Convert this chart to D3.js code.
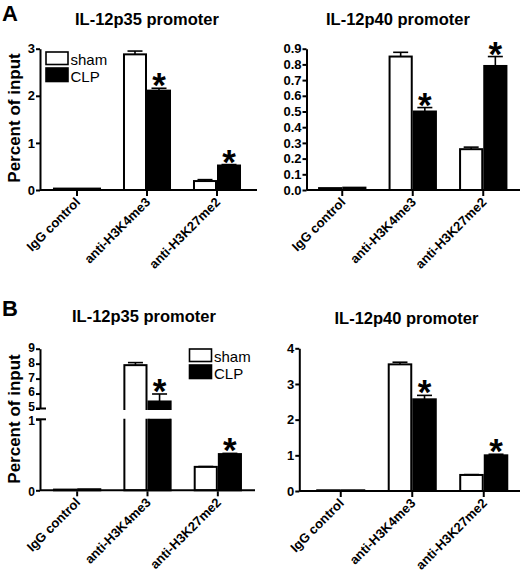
<!DOCTYPE html>
<html>
<head>
<meta charset="utf-8">
<script src="https://cdn.jsdelivr.net/npm/d3@7"></script>
<style>
  body { margin: 0; background: #fff; }
  text { font-family: "Liberation Sans", Arial, sans-serif; }
</style>
</head>
<body>
<div id="chart"></div>
<script>
// Categories and series
const categories = ["IgG control", "anti-H3K4me3", "anti-H3K27me2"];
const groups = ["sham", "CLP"];

// Panel A, IL-12p35
const shamA35 = [0.03, 2.88, 0.19];
const shamA35Err = [0.005, 0.07, 0.03];
const clpA35 = [0.03, 2.11, 0.52];
const clpA35Err = [0.005, 0.05, 0.02];

// Panel A, IL-12p40
const shamA40 = [0.012, 0.85, 0.26];
const shamA40Err = [0.002, 0.027, 0.013];
const clpA40 = [0.015, 0.50, 0.79];
const clpA40Err = [0.002, 0.025, 0.06];

// Panel B, IL-12p35
const shamB35 = [0.01, 7.9, 0.33];
const shamB35Err = [0.002, 0.17, 0.005];
const clpB35 = [0.015, 5.47, 0.51];
const clpB35Err = [0.002, 0.5, 0.01];

// Panel B, IL-12p40
const shamB40 = [0.02, 3.55, 0.45];
const shamB40Err = [0.003, 0.06, 0.01];
const clpB40 = [0.02, 2.57, 1.0];
const clpB40Err = [0.003, 0.11, 0.03];

// significance markers on CLP bars
const starsCLP = [false, true, true];

// tick labels
const ticksA35 = [0, 1, 2, 3];
const ticksA40 = [0, 0.1, 0.2, 0.3, 0.4, 0.5, 0.6, 0.7, 0.8, 0.9];
const ticksB35Top = [5, 6, 7, 8, 9];
const ticksB35Low = [0, 1];
const ticksB40 = [0, 1, 2, 3, 4];

const svg = d3.select("#chart").append("svg")
    .attr("width", 520)
    .attr("height", 576);

let clipCount = 0;

function drawPanel(p) {
    const g = svg.append("g");

    const x = d3.scaleBand()
        .domain(categories)
        .range(p.xRange)
        .paddingInner(0.314)
        .paddingOuter(0.157);
    const xs = d3.scaleBand().domain(groups).range([0, x.bandwidth()]);

    const segs = p.segments.map(s => ({
        ...s,
        scale: d3.scaleLinear().domain(s.domain).range(s.range)
    }));

    // find the segment a value belongs to
    function yOf(v) {
        for (const s of segs) {
            if (v >= s.domain[0] && v <= s.domain[1]) return s.scale(v);
        }
        return segs[segs.length - 1].scale(v);
    }

    const rows = [];
    categories.forEach((c, i) => {
        rows.push({ cat: c, grp: "sham", v: p.sham[i], e: p.shamErr[i], star: false });
        rows.push({ cat: c, grp: "CLP", v: p.clp[i], e: p.clpErr[i], star: starsCLP[i] });
    });

    // bars, one pass per axis segment, clipped to it
    segs.forEach((s, si) => {
        const id = "clip" + (clipCount++);
        const hasAbove = si > 0;
        const top = hasAbove ? s.range[1] - 0.5 : 0;
        const bottom = s.domain[0] === 0 ? s.range[0] + 2 : s.range[0] + 1.5;
        svg.append("clipPath").attr("id", id)
            .append("rect")
            .attr("x", 0).attr("y", top)
            .attr("width", 520).attr("height", bottom - top);

        const bg = g.append("g").attr("clip-path", `url(#${id})`);
        bg.selectAll("rect")
            .data(rows.filter(d => d.v > s.domain[0]))
            .join("rect")
            .attr("x", d => x(d.cat) + xs(d.grp) + 1)
            .attr("width", xs.bandwidth() - 2)
            .attr("y", d => d.v > s.domain[1] ? s.range[1] - 20 : s.scale(d.v))
            .attr("height", d => {
                const y0 = d.v > s.domain[1] ? s.range[1] - 20 : s.scale(d.v);
                const y1 = s.domain[0] === 0 ? s.scale(0) : s.range[0] + 20;
                return Math.max(0, y1 - y0);
            })
            .attr("fill", d => d.grp === "sham" ? "#fff" : "#000")
            .attr("stroke", "#000")
            .attr("stroke-width", 2);
    });

    // error bars (upper only)
    const eb = g.append("g").attr("stroke", "#000").attr("stroke-width", 1.6);
    rows.filter(d => d.v > 0.05 * p.maxV).forEach(d => {
        const cx = x(d.cat) + xs(d.grp) + xs.bandwidth() / 2;
        const yt = yOf(d.v + d.e);
        eb.append("line").attr("x1", cx).attr("x2", cx)
            .attr("y1", yOf(d.v)).attr("y2", yt);
        eb.append("line").attr("x1", cx - 7.5).attr("x2", cx + 7.5)
            .attr("y1", yt).attr("y2", yt);
    });

    // asterisks
    g.selectAll("text.star")
        .data(rows.filter(d => d.star))
        .join("text")
        .attr("class", "star")
        .attr("x", d => x(d.cat) + xs(d.grp) + xs.bandwidth() / 2)
        .attr("y", d => yOf(d.v + d.e) + 9)
        .attr("text-anchor", "middle")
        .attr("font-size", 35)
        .attr("font-weight", "bold")
        .text("*");

    // y axes
    segs.forEach(s => {
        const ax = g.append("g")
            .attr("transform", `translate(${p.axisX},0)`)
            .call(d3.axisLeft(s.scale)
                .tickValues(s.ticks)
                .tickFormat(s.format)
                .tickSize(4)
                .tickSizeOuter(0)
                .tickPadding(1));
        ax.select(".domain").attr("stroke-width", 2);
        ax.selectAll(".tick line").attr("stroke-width", 2);
        ax.selectAll(".tick text")
            .attr("font-size", p.tickFont || 13)
            .attr("font-weight", "bold")
            .attr("font-family", "Liberation Sans, Arial, sans-serif")
            .attr("fill", "#000");
        if (s.labelShift) ax.selectAll(".tick text").attr("dy", s.labelShift);
    });

    // break marks on a split axis
    if (segs.length > 1) {
        [segs[0].range[0], segs[1].range[1]].forEach(yy => {
            g.append("line")
                .attr("x1", p.axisX - 4).attr("x2", p.axisX + 6)
                .attr("y1", yy).attr("y2", yy)
                .attr("stroke", "#000").attr("stroke-width", 2);
        });
    }

    // x axis
    const zeroY = yOf(0);
    const xa = g.append("g")
        .attr("transform", `translate(0,${zeroY})`)
        .call(d3.axisBottom(x).tickSize(5).tickSizeOuter(0));
    xa.select(".domain").remove();
    xa.append("line")
        .attr("x1", p.axisX).attr("x2", p.xEnd)
        .attr("stroke", "#000").attr("stroke-width", 2);
    xa.selectAll(".tick line").attr("stroke-width", 2).attr("transform", "translate(0,1)");
    xa.selectAll(".tick text")
        .attr("x", 0).attr("y", 0).attr("dy", 0)
        .attr("transform", "translate(4,13) rotate(-45)")
        .attr("text-anchor", "end")
        .attr("font-size", 13)
        .attr("font-weight", "bold")
        .attr("font-family", "Liberation Sans, Arial, sans-serif")
        .attr("fill", "#000");

    // title
    g.append("text")
        .attr("x", p.titleX).attr("y", p.titleY)
        .attr("text-anchor", "middle")
        .attr("font-size", 16.5)
        .attr("font-weight", "bold")
        .text(p.title);

    // y label
    if (p.yLabel) {
        g.append("text")
            .attr("transform", `translate(20,${p.yLabelY}) rotate(-90)`)
            .attr("text-anchor", "middle")
            .attr("font-size", 17)
            .attr("font-weight", "bold")
            .text(p.yLabel);
    }

    // legend
    if (p.legend) {
        const lg = g.append("g").attr("transform", `translate(${p.legend[0]},${p.legend[1]})`);
        groups.forEach((k, i) => {
            lg.append("rect")
                .attr("x", 0).attr("y", i * 16)
                .attr("width", 22).attr("height", 12.5 + i)
                .attr("fill", k === "sham" ? "#fff" : "#000")
                .attr("stroke", "#000").attr("stroke-width", 1.6);
            lg.append("text")
                .attr("x", 24.5).attr("y", i * 16 + 12.5 + i)
                .attr("font-size", 15)
                .text(k);
        });
    }
}

drawPanel({
    title: "IL-12p35 promoter", titleX: 147, titleY: 25,
    yLabel: "Percent of input", yLabelY: 118,
    axisX: 40, xEnd: 257, xRange: [42, 252],
    segments: [{ domain: [0, 3], range: [190, 48.7], ticks: ticksA35, format: d3.format("d") }],
    maxV: 3,
    sham: shamA35, shamErr: shamA35Err, clp: clpA35, clpErr: clpA35Err,
    legend: [46, 52]
});

drawPanel({
    title: "IL-12p40 promoter", titleX: 398, titleY: 25,
    axisX: 306.5, xEnd: 520, xRange: [307, 518.5],
    segments: [{ domain: [0, 0.9], range: [190, 48.7], ticks: ticksA40, format: d3.format(".1f") }],
    maxV: 0.9,
    sham: shamA40, shamErr: shamA40Err, clp: clpA40, clpErr: clpA40Err
});

drawPanel({
    title: "IL-12p35 promoter", titleX: 144, titleY: 322,
    yLabel: "Percent of input", yLabelY: 419,
    axisX: 40, xEnd: 255, xRange: [42, 253],
    tickFont: 12,
    segments: [
        { domain: [5, 9], range: [408.5, 348.7], ticks: ticksB35Top, format: d3.format("d"), labelShift: "0.2em" },
        { domain: [0, 1], range: [490.3, 419.3], ticks: ticksB35Low, format: d3.format("d"), labelShift: "0.42em" }
    ],
    maxV: 1,
    sham: shamB35, shamErr: shamB35Err, clp: clpB35, clpErr: clpB35Err,
    legend: [189.5, 349]
});

drawPanel({
    title: "IL-12p40 promoter", titleX: 406.5, titleY: 324,
    axisX: 299.3, xEnd: 520, xRange: [305, 519.5],
    segments: [{ domain: [0, 4], range: [491, 348.3], ticks: ticksB40, format: d3.format("d") }],
    maxV: 4,
    sham: shamB40, shamErr: shamB40Err, clp: clpB40, clpErr: clpB40Err
});

// panel letters
svg.append("text").attr("x", 2).attr("y", 21)
    .attr("font-size", 22).attr("font-weight", "bold").text("A");
svg.append("text").attr("x", 2).attr("y", 316)
    .attr("font-size", 22).attr("font-weight", "bold").text("B");
</script>
</body>
</html>
